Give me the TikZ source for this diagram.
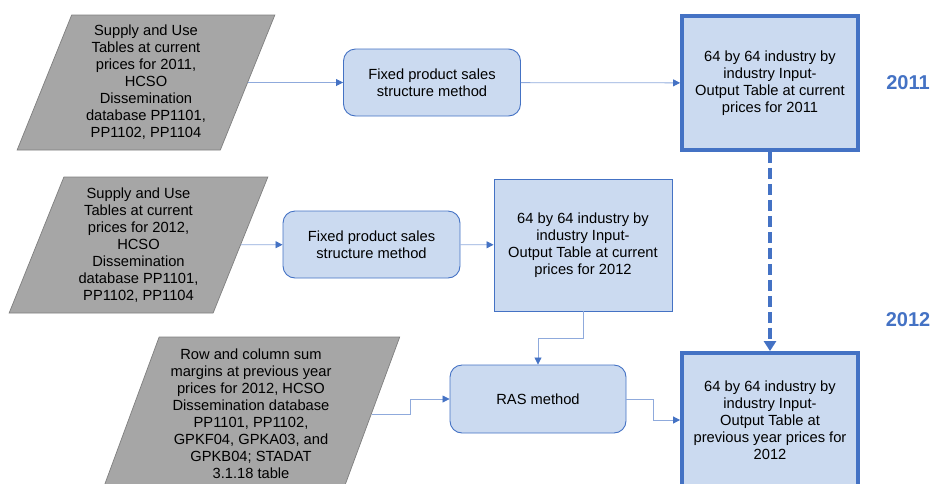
\documentclass[tikz,border=0pt]{standalone}
\usepackage{fontspec}
\setmainfont{Liberation Sans}
\usetikzlibrary{shapes.geometric,arrows.meta}

\definecolor{boxfill}{HTML}{CBDAF0}
\definecolor{boxline}{HTML}{4472C4}
\definecolor{srcfill}{HTML}{A6A6A6}
\definecolor{srcline}{HTML}{7F7F7F}
\definecolor{flowline}{HTML}{8FAADC}

\begin{document}
\begin{tikzpicture}[x=1pt,y=-1pt,
  every node/.style={font=\fontsize{14.7}{17}\selectfont, align=center, inner sep=0pt},
  src/.style={trapezium, trapezium left angle=69, trapezium right angle=111,
    trapezium stretches=true, draw=srcline, fill=srcfill, line width=0.7pt},
  method/.style={draw=boxline, fill=boxfill, rounded corners=12pt, line width=0.9pt,
    minimum width=177pt, minimum height=67pt},
  table/.style={draw=boxline, fill=boxfill, line width=0.9pt,
    minimum width=178pt, minimum height=132pt},
  result/.style={table, line width=3.8pt, minimum width=176pt, minimum height=134pt},
  year/.style={font=\fontsize{20}{24}\bfseries, text=boxline},
  flow/.style={draw=flowline, line width=0.8pt, -{Triangle[length=7pt,width=7pt,color=boxline]}},
  link/.style={draw=boxline, line width=4pt, dash pattern=on 11pt off 5pt,
    -{Triangle[length=10pt,width=12pt]}}]
  \clip (0,0) rectangle (930,483);

  % Row 1: 2011 at current prices
  \node[src, minimum width=258pt, minimum height=135pt] (sut11) at (146,82.5)
    {Supply and Use\\Tables at current\\prices for 2011,\\HCSO\\Dissemination\\database PP1101,\\PP1102, PP1104};
  \node[method] (fps11) at (432,82.5) {Fixed product sales\\structure method};
  \node[result] (io11) at (770,83) {64 by 64 industry by\\industry Input-\\Output Table at current\\prices for 2011};
  \node[year] (y11) at (908,83) {2011};

  % Row 2: 2012 at current prices
  \node[src, minimum width=259pt, minimum height=136pt] (sut12) at (138.5,245)
    {Supply and Use\\Tables at current\\prices for 2012,\\HCSO\\Dissemination\\database PP1101,\\PP1102, PP1104};
  \node[method] (fps12) at (371.5,244.5) {Fixed product sales\\structure method};
  \node[table] (io12) at (583,245) {64 by 64 industry by\\industry Input-\\Output Table at current\\prices for 2012};
  \node[year] (y12) at (908,320) {2012};

  % Row 3: 2012 at previous year prices
  \node[src, minimum width=298pt, minimum height=154pt] (rcm12) at (251,414)
    {Row and column sum\\margins at previous year\\prices for 2012, HCSO\\Dissemination database\\PP1101, PP1102,\\GPKF04, GPKA03, and\\GPKB04; STADAT\\3.1.18 table};
  \node[method, minimum width=176pt, minimum height=68pt] (ras) at (538,399) {RAS method};
  \node[result] (iop12) at (770,420) {64 by 64 industry by\\industry Input-\\Output Table at\\previous year prices for\\2012};

  % Connectors
  \draw[flow] (sut11) -- (fps11);
  \draw[flow] (fps11) -- (io11);
  \draw[flow] (sut12) -- (fps12);
  \draw[flow] (fps12) -- (io12);
  \draw[flow] (io12.south) -- ++(0,27) -| (ras.north);
  \draw[flow] (rcm12.east) -- ++(39,0) |- (ras.west);
  \draw[flow] (ras.east) -- ++(27,0) |- (iop12.west);
  \draw[link] (io11) -- (iop12);
\end{tikzpicture}
\end{document}
